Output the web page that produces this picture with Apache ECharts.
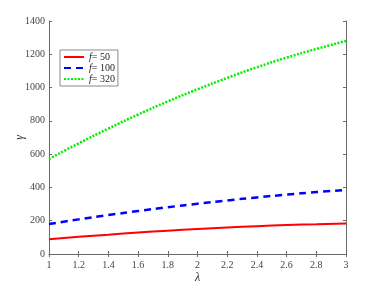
<!DOCTYPE html>
<html>
<head>
<meta charset="utf-8">
<script src="https://cdn.jsdelivr.net/npm/echarts@6/dist/echarts.min.js"></script>
<style>
  html, body { margin: 0; padding: 0; background: #fff; }
  #main { width: 382px; height: 286px; }
</style>
</head>
<body>
<div id="main"></div>
<script>
// data
var lambda = [1, 1.2, 1.4, 1.6, 1.8, 2, 2.2, 2.4, 2.6, 2.8, 3];
var f50 = [88, 103, 116, 129, 140, 150, 159, 167, 174, 179, 184];
var f100 = [180, 208, 234, 258, 281, 302, 322, 340, 357, 372, 385];
var f320 = [571, 665, 754, 838, 917, 990, 1058, 1122, 1180, 1232, 1280];
var legendNames = ['f= 50', 'f= 100', 'f= 320'];

function pairs(ys) {
  var out = [];
  for (var i = 0; i < lambda.length; i++) out.push([lambda[i], ys[i]]);
  return out;
}

var axisColor = '#6a6a6a';
var font = '"Liberation Serif", "DejaVu Serif", serif';

var chart = echarts.init(document.getElementById('main'));

function xAx(pos, showLabel) {
  return {
    type: 'value', position: pos, min: 1, max: 3, interval: 0.2,
    name: showLabel ? 'λ' : '', nameLocation: 'middle', nameGap: 18, nameMoveOverlap: false,
    nameTextStyle: { fontFamily: font, fontStyle: 'italic', fontSize: 12, color: '#333' },
    axisLine: { show: true, lineStyle: { color: axisColor, width: 1 } },
    axisTick: { show: true, inside: true, length: 3, lineStyle: { color: axisColor } },
    axisLabel: { show: showLabel, fontFamily: font, fontSize: 10, color: '#444', margin: 6,
      formatter: function (v) { return String(Math.round(v * 10) / 10); } },
    splitLine: { show: false }
  };
}
function yAx(pos, showLabel) {
  return {
    type: 'value', position: pos, min: 0, max: 1400, interval: 200,
    name: showLabel ? 'γ' : '', nameLocation: 'middle', nameGap: 23, nameRotate: 90, nameMoveOverlap: false,
    nameTextStyle: { fontFamily: font, fontStyle: 'italic', fontSize: 12, color: '#333' },
    axisLine: { show: true, lineStyle: { color: axisColor, width: 1 } },
    axisTick: { show: true, inside: true, length: 3, lineStyle: { color: axisColor } },
    axisLabel: { show: showLabel, fontFamily: font, fontSize: 10, color: '#444', margin: 4,
      formatter: function (v) { return String(v); } },
    splitLine: { show: false }
  };
}

chart.setOption({
  animation: false,
  backgroundColor: '#fff',
  grid: { left: 49, right: 36, top: 21, bottom: 32, containLabel: false, outerBoundsMode: 'none' },
  xAxis: [xAx('bottom', true), xAx('top', false)],
  yAxis: [yAx('left', true), yAx('right', false)],
  legend: {
    orient: 'vertical', left: 60, top: 50,
    data: legendNames,
    backgroundColor: '#fff',
    borderColor: '#8a8a8a', borderWidth: 1, borderRadius: 0,
    padding: [2, 3, 2, 3], itemGap: 1, itemWidth: 20, itemHeight: 9,
    itemStyle: { opacity: 0 },
    textStyle: {
      fontFamily: font, fontSize: 10, color: '#222',
      rich: { i: { fontFamily: font, fontStyle: 'italic', fontSize: 10, color: '#222' } }
    },
    formatter: function (name) { return '{i|f}' + name.slice(1); }
  },
  series: [
    { name: legendNames[0], type: 'line', data: pairs(f50), symbol: 'none', smooth: true,
      lineStyle: { color: '#ff0000', width: 2 }, itemStyle: { color: '#ff0000' } },
    { name: legendNames[1], type: 'line', data: pairs(f100), symbol: 'none', smooth: true,
      lineStyle: { color: '#0000ff', width: 2.5, type: [7, 5] }, itemStyle: { color: '#0000ff' } },
    { name: legendNames[2], type: 'line', data: pairs(f320), symbol: 'none', smooth: true,
      lineStyle: { color: '#00ee00', width: 2.5, type: [2, 1.5] }, itemStyle: { color: '#00ee00' } }
  ]
});
</script>
</body>
</html>
